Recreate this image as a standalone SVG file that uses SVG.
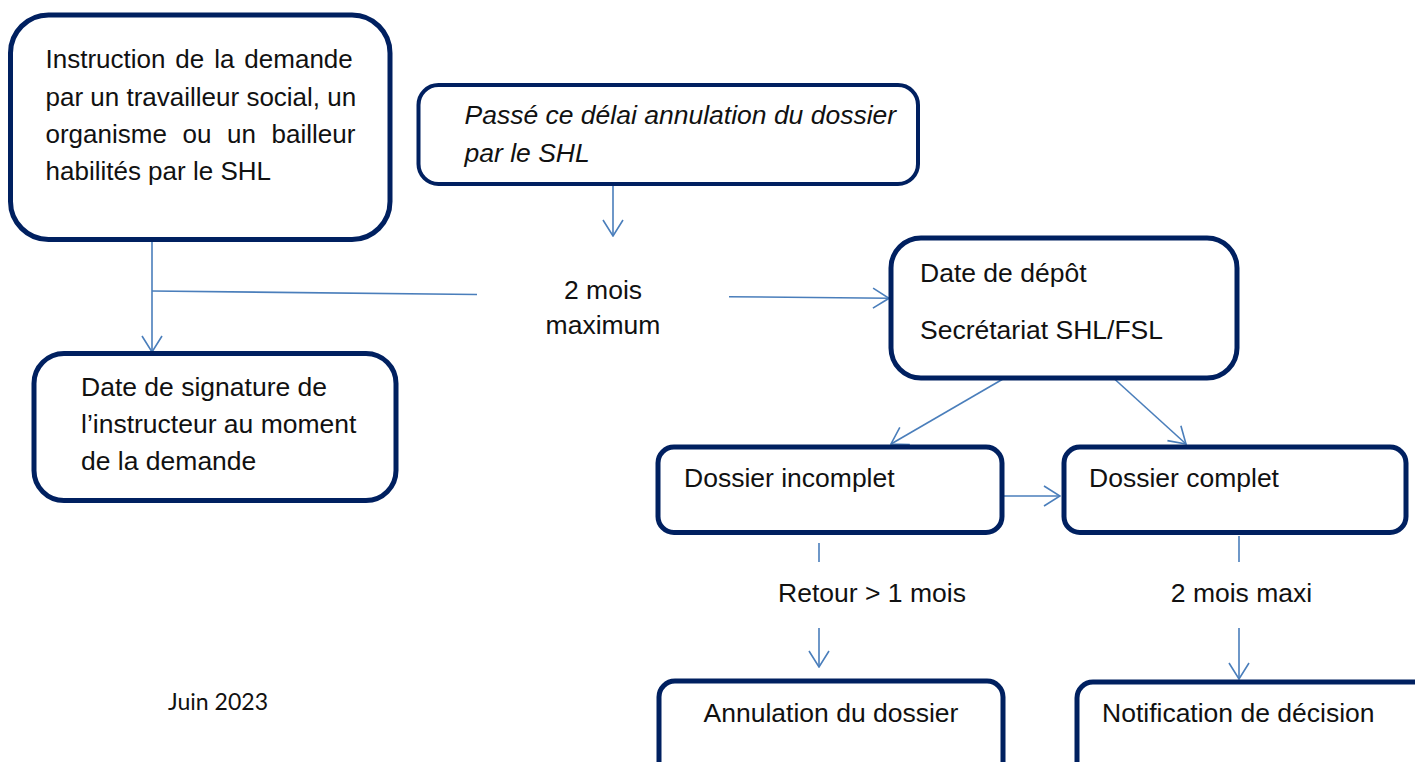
<svg xmlns="http://www.w3.org/2000/svg" width="1415" height="762" viewBox="0 0 1415 762">
<style>
.box{fill:#fff;stroke:#002060;stroke-width:5}
.t{font-family:"Liberation Sans",Arial,sans-serif;font-size:26.5px;fill:#111}
.c{fill:none;stroke:#4A7EBB;stroke-width:1.6}
</style>
<defs>
<marker id="ah" markerUnits="userSpaceOnUse" viewBox="0 0 18 22" refX="17" refY="11" markerWidth="18" markerHeight="22" orient="auto">
<path d="M1,1 L17,11 L1,21" fill="none" stroke="#4A7EBB" stroke-width="1.6"/>
</marker>
</defs>
<rect width="1415" height="762" fill="#fff"/>
<g id="connectors">
<line class="c" x1="613" y1="186" x2="613" y2="236" marker-end="url(#ah)"/>
<line class="c" x1="152" y1="240" x2="152" y2="352" marker-end="url(#ah)"/>
<line class="c" x1="152" y1="291" x2="477" y2="294.5"/>
<line class="c" x1="729" y1="296.7" x2="889" y2="298.3" marker-end="url(#ah)"/>
<line class="c" x1="1003" y1="379" x2="891" y2="444" marker-end="url(#ah)"/>
<line class="c" x1="1114.5" y1="379" x2="1186" y2="444" marker-end="url(#ah)"/>
<line class="c" x1="1003" y1="496" x2="1060" y2="496" marker-end="url(#ah)"/>
<line class="c" x1="819" y1="543" x2="819" y2="562"/>
<line class="c" x1="819" y1="628" x2="819" y2="667" marker-end="url(#ah)"/>
<line class="c" x1="1239" y1="536" x2="1239" y2="562"/>
<line class="c" x1="1239" y1="628" x2="1239" y2="679" marker-end="url(#ah)"/>
</g>
<g id="n-instruction">
<rect class="box" x="10.5" y="15" width="379.5" height="224.5" rx="38" ry="38"/>
<text class="t" style="font-size:26px" x="45.5" y="68" word-spacing="2.7">Instruction de la demande</text>
<text class="t" style="font-size:26px" x="45.5" y="105.5">par un travailleur social, un</text>
<text class="t" style="font-size:26px" x="45.5" y="143" word-spacing="8.4">organisme ou un bailleur</text>
<text class="t" style="font-size:26px" x="45.5" y="180">habilités par le SHL</text>
</g>
<g id="n-passe">
<rect class="box" style="stroke-width:4" x="418.5" y="85" width="499.5" height="99" rx="20" ry="20"/>
<text class="t" font-style="italic" x="464.5" y="124">Passé ce délai annulation du dossier</text>
<text class="t" font-style="italic" x="464.5" y="162">par le SHL</text>
</g>
<g id="n-signature">
<rect class="box" x="34" y="353.5" width="362" height="147" rx="30" ry="30"/>
<text class="t" x="81" y="396">Date de signature de</text>
<text class="t" x="81" y="433">l’instructeur au moment</text>
<text class="t" x="81" y="470">de la demande</text>
</g>
<g id="label-2mois">
<text class="t" x="603" y="299" text-anchor="middle">2 mois</text>
<text class="t" x="603" y="334" text-anchor="middle">maximum</text>
</g>
<g id="n-depot">
<rect class="box" x="891" y="238" width="346" height="140" rx="30" ry="30"/>
<text class="t" x="920" y="282">Date de dépôt</text>
<text class="t" x="920" y="339">Secrétariat SHL/FSL</text>
</g>
<g id="n-incomplet">
<rect class="box" x="658" y="447" width="344" height="85.5" rx="16" ry="16"/>
<text class="t" x="684" y="487">Dossier incomplet</text>
</g>
<g id="n-complet">
<rect class="box" x="1064" y="447" width="342" height="85.5" rx="16" ry="16"/>
<text class="t" x="1089" y="487">Dossier complet</text>
</g>
<g id="label-retour">
<text class="t" x="872" y="601.5" text-anchor="middle">Retour &gt; 1 mois</text>
</g>
<g id="label-2moismaxi">
<text class="t" x="1241.5" y="601.5" text-anchor="middle">2 mois maxi</text>
</g>
<g id="n-annulation">
<rect class="box" x="659" y="681" width="344" height="110" rx="16" ry="16"/>
<text class="t" x="831" y="722" text-anchor="middle">Annulation du dossier</text>
</g>
<g id="n-notification">
<rect class="box" x="1077" y="682" width="360" height="110" rx="16" ry="16"/>
<text class="t" x="1102" y="722">Notification de décision</text>
</g>
<g id="footer">
<text x="168" y="710" font-family="Lato,'Open Sans',sans-serif" font-size="23" fill="#111" textLength="100" lengthAdjust="spacingAndGlyphs">Juin 2023</text>
</g>
</svg>
